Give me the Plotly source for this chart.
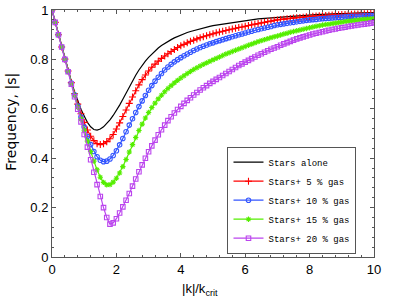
import plotly.graph_objects as go

# sampling grid of |k|/k_crit (0 to 10, step 0.1)
k_ratio = [round(i * 0.1, 1) for i in range(101)]

stars_alone = [
    1.000, 0.950, 0.900, 0.851, 0.803, 0.756, 0.711, 0.669, 0.631, 0.598,
    0.571, 0.545, 0.527, 0.516, 0.514, 0.518, 0.527, 0.540, 0.555, 0.573,
    0.593, 0.615, 0.639, 0.664, 0.689, 0.713, 0.736, 0.757, 0.776, 0.793,
    0.808, 0.822, 0.835, 0.846, 0.856, 0.865, 0.873, 0.880, 0.887, 0.893,
    0.899, 0.904, 0.909, 0.913, 0.917, 0.921, 0.925, 0.928, 0.931, 0.934,
    0.937, 0.939, 0.942, 0.944, 0.946, 0.948, 0.950, 0.952, 0.954, 0.956,
    0.959, 0.960, 0.961, 0.963, 0.964, 0.965, 0.966, 0.968, 0.969, 0.970,
    0.971, 0.972, 0.973, 0.974, 0.975, 0.976, 0.977, 0.977, 0.978, 0.979,
    0.980, 0.980, 0.981, 0.982, 0.982, 0.983, 0.983, 0.984, 0.984, 0.985,
    0.985, 0.986, 0.986, 0.987, 0.987, 0.987, 0.988, 0.988, 0.988, 0.989,
    0.989,
]

gas_5 = [
    1.000, 0.950, 0.900, 0.850, 0.801, 0.753, 0.706, 0.661, 0.619, 0.580,
    0.545, 0.514, 0.489, 0.471, 0.459, 0.455, 0.459, 0.467, 0.479, 0.496,
    0.518, 0.543, 0.569, 0.595, 0.622, 0.648, 0.673, 0.697, 0.718, 0.737,
    0.753, 0.768, 0.781, 0.793, 0.804, 0.814, 0.823, 0.832, 0.840, 0.848,
    0.855, 0.861, 0.867, 0.873, 0.878, 0.883, 0.888, 0.892, 0.896, 0.900,
    0.904, 0.908, 0.911, 0.914, 0.917, 0.920, 0.923, 0.926, 0.929, 0.931,
    0.934, 0.937, 0.940, 0.943, 0.945, 0.948, 0.950, 0.953, 0.955, 0.958,
    0.960, 0.962, 0.963, 0.965, 0.966, 0.968, 0.969, 0.970, 0.971, 0.973,
    0.974, 0.975, 0.976, 0.977, 0.977, 0.978, 0.979, 0.980, 0.980, 0.981,
    0.982, 0.982, 0.983, 0.983, 0.984, 0.984, 0.985, 0.985, 0.985, 0.986,
    0.986,
]

gas_10 = [
    1.000, 0.950, 0.900, 0.850, 0.800, 0.752, 0.704, 0.657, 0.611, 0.567,
    0.526, 0.488, 0.455, 0.427, 0.406, 0.392, 0.386, 0.388, 0.397, 0.411,
    0.430, 0.454, 0.480, 0.507, 0.534, 0.560, 0.585, 0.609, 0.632, 0.654,
    0.675, 0.694, 0.712, 0.728, 0.743, 0.757, 0.769, 0.780, 0.790, 0.799,
    0.807, 0.815, 0.822, 0.829, 0.836, 0.842, 0.848, 0.853, 0.858, 0.863,
    0.867, 0.872, 0.876, 0.880, 0.884, 0.888, 0.892, 0.896, 0.900, 0.903,
    0.907, 0.911, 0.914, 0.918, 0.921, 0.924, 0.927, 0.930, 0.933, 0.937,
    0.940, 0.942, 0.944, 0.946, 0.948, 0.950, 0.952, 0.954, 0.956, 0.958,
    0.960, 0.961, 0.962, 0.964, 0.965, 0.966, 0.967, 0.968, 0.969, 0.970,
    0.971, 0.972, 0.973, 0.974, 0.975, 0.975, 0.976, 0.977, 0.977, 0.978,
    0.978,
]

gas_15 = [
    1.000, 0.950, 0.900, 0.850, 0.800, 0.751, 0.702, 0.654, 0.606, 0.559,
    0.513, 0.469, 0.427, 0.388, 0.353, 0.323, 0.302, 0.292, 0.293, 0.303,
    0.319, 0.340, 0.366, 0.395, 0.425, 0.455, 0.484, 0.512, 0.538, 0.563,
    0.585, 0.605, 0.623, 0.640, 0.655, 0.669, 0.682, 0.694, 0.705, 0.715,
    0.725, 0.734, 0.743, 0.751, 0.759, 0.766, 0.773, 0.780, 0.786, 0.792,
    0.798, 0.804, 0.810, 0.816, 0.822, 0.827, 0.832, 0.837, 0.842, 0.847,
    0.852, 0.857, 0.862, 0.867, 0.872, 0.876, 0.880, 0.884, 0.888, 0.892,
    0.895, 0.899, 0.903, 0.906, 0.910, 0.913, 0.916, 0.919, 0.922, 0.925,
    0.928, 0.931, 0.934, 0.936, 0.939, 0.941, 0.943, 0.945, 0.947, 0.949,
    0.951, 0.953, 0.955, 0.956, 0.958, 0.959, 0.961, 0.962, 0.963, 0.964,
    0.965,
]

gas_20 = [
    1.000, 0.950, 0.900, 0.850, 0.800, 0.750, 0.700, 0.649, 0.598, 0.547,
    0.496, 0.445, 0.394, 0.343, 0.293, 0.245, 0.200, 0.160, 0.133, 0.138,
    0.155, 0.178, 0.203, 0.230, 0.257, 0.287, 0.316, 0.345, 0.373, 0.400,
    0.426, 0.450, 0.473, 0.495, 0.515, 0.534, 0.552, 0.568, 0.583, 0.597,
    0.610, 0.622, 0.634, 0.645, 0.656, 0.666, 0.676, 0.685, 0.694, 0.703,
    0.711, 0.719, 0.727, 0.735, 0.743, 0.751, 0.759, 0.767, 0.775, 0.782,
    0.789, 0.796, 0.803, 0.810, 0.817, 0.823, 0.829, 0.835, 0.841, 0.846,
    0.851, 0.857, 0.863, 0.868, 0.873, 0.878, 0.883, 0.887, 0.891, 0.895,
    0.899, 0.903, 0.906, 0.909, 0.912, 0.915, 0.918, 0.921, 0.923, 0.926,
    0.928, 0.930, 0.933, 0.935, 0.937, 0.939, 0.941, 0.943, 0.945, 0.947,
    0.949,
]

series_names = ["Stars alone", "Stars+ 5 % gas", "Stars+ 10 % gas",
                "Stars+ 15 % gas", "Stars+ 20 % gas"]
series_values = [stars_alone, gas_5, gas_10, gas_15, gas_20]

x_ticks = [0, 2, 4, 6, 8, 10]
y_ticks = [0, 0.2, 0.4, 0.6, 0.8, 1]

styles = [
    dict(color="#000000", symbol=None),
    dict(color="#ff0000", symbol="cross-thin-open"),
    dict(color="#3355ff", symbol="circle-open"),
    dict(color="#55ee00", symbol="asterisk-open"),
    dict(color="#bb44ee", symbol="square-open"),
]
sizes = [0, 5, 4.5, 4.5, 4.5]

fig = go.Figure()
for name, vals, st, sz in zip(series_names, series_values, styles, sizes):
    if st["symbol"] is None:
        fig.add_trace(go.Scatter(x=k_ratio, y=vals, mode="lines", name=name,
                                 line=dict(color=st["color"], width=1.2)))
    else:
        fig.add_trace(go.Scatter(
            x=k_ratio, y=vals, mode="lines+markers", name=name,
            line=dict(color=st["color"], width=1.2),
            marker=dict(symbol=st["symbol"], size=sz,
                        line=dict(color=st["color"], width=1.1),
                        color=st["color"])))

tick_font = dict(family="Liberation Sans Narrow, Arial Narrow, Liberation Sans, Arial",
                 size=13, color="#000")
axis_common = dict(showgrid=False, zeroline=False, showline=True, linecolor="#555",
                   linewidth=1, mirror="allticks", ticks="inside", ticklen=4,
                   tickcolor="#555", tickfont=tick_font, automargin=False)

fig.update_xaxes(range=[0, 10], tickvals=x_ticks,
                 minor=dict(dtick=0.4, ticks="inside", ticklen=2, tickcolor="#555"),
                 **axis_common)
fig.update_yaxes(range=[0, 1], tickvals=y_ticks,
                 minor=dict(dtick=0.04, ticks="inside", ticklen=2, tickcolor="#555"),
                 **axis_common)

fig.update_layout(
    width=415, height=305,
    margin=dict(l=52, r=41, t=9.5, b=47.5),
    paper_bgcolor="white", plot_bgcolor="white",
    showlegend=True,
    legend=dict(x=0.545, y=0.23, xanchor="left", yanchor="middle",
                bgcolor="white", bordercolor="#555", borderwidth=1,
                font=dict(family="Liberation Mono, Courier New, monospace",
                          size=9, color="#000"),
                tracegroupgap=0),
    annotations=[
        dict(text="Frequency, |s|", textangle=-90, xref="paper", yref="paper",
             x=-0.124, y=0.548, xanchor="center", yanchor="middle", showarrow=False,
             font=dict(family="DejaVu Sans", size=14, color="#000")),
        dict(text="|k|/k<sub>crit</sub>", xref="paper", yref="paper",
             x=0.46, y=-0.09, xanchor="center", yanchor="top", showarrow=False,
             font=dict(family="Liberation Sans, Arial", size=13, color="#000")),
    ],
)

fig.write_html("out.html", config={"displayModeBar": False},
               post_script="document.body.style.margin='0';document.body.style.padding='0';")
